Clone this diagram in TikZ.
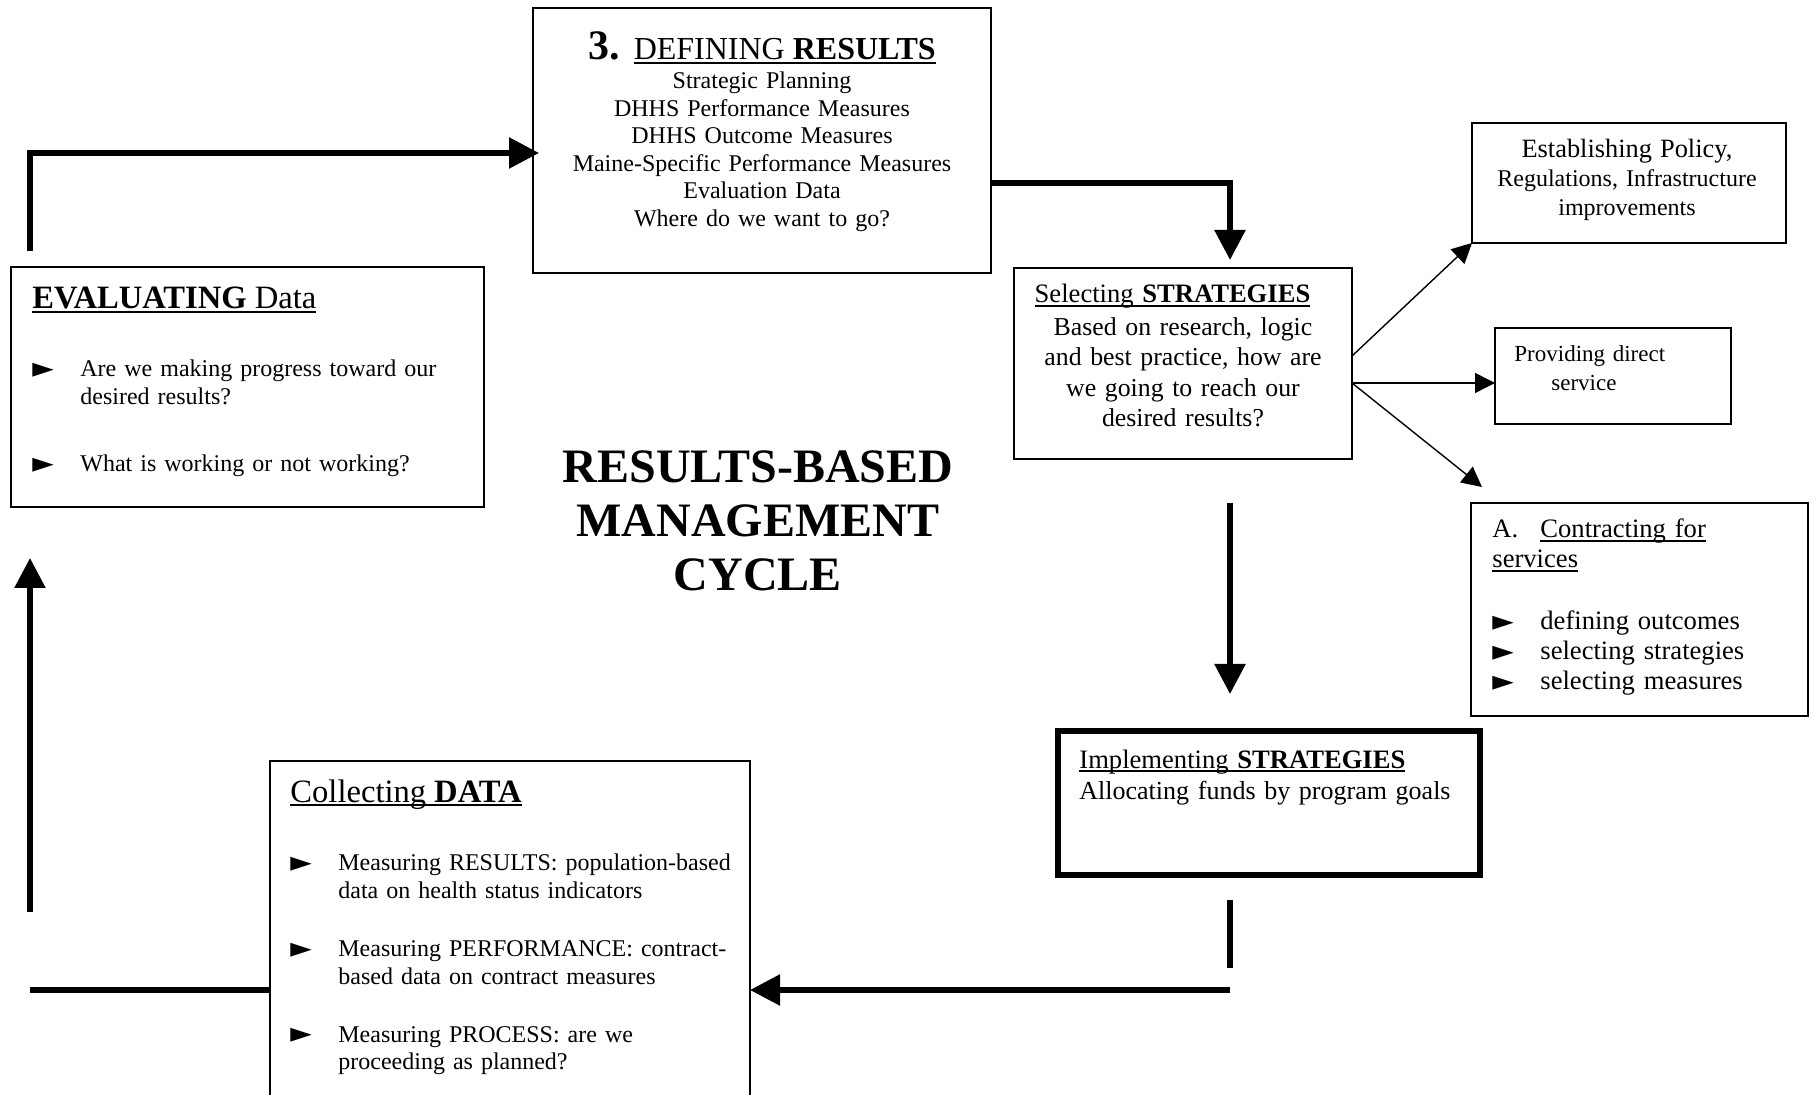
\documentclass[tikz,border=0pt]{standalone}
\usepackage{fontspec}
\setmainfont{Liberation Serif}
\newfontfamily\bulletfont{DejaVu Sans}
\usetikzlibrary{positioning, calc, arrows.meta}

\newcommand{\bul}{\raisebox{-0.3pt}{\bulletfont\fontsize{14}{14}\selectfont ►}}
\newcommand{\bitem}[1]{\par\noindent\hangindent=24pt\hangafter=1\makebox[24pt][l]{\bul}#1\par}
\newcommand{\uln}[1]{\leavevmode\setbox0=\hbox{#1}\rlap{\rule[-1.9pt]{\wd0}{0.9pt}}\box0}

\begin{document}
\begin{tikzpicture}[x=0.5pt, y=-0.5pt,
    box/.style={draw, line width=0.7pt, rectangle, inner sep=0pt, outer sep=0pt, anchor=north west},
    txt/.style={inner sep=0pt, anchor=base west, align=left},
    flow/.style={line width=2.8pt, -{Triangle[length=15pt,width=15pt]}},
    flowline/.style={line width=2.8pt},
    branch/.style={line width=0.7pt, -{Triangle[length=10pt,width=10pt]}}]
    \useasboundingbox (0,0) rectangle (1814,1095);
    \clip (0,0) rectangle (1814,1095);
    %riquadri
    \node[box, minimum width=229pt, minimum height=132.5pt] (defbox) at (533,8) {};
    \node[box, minimum width=236.5pt, minimum height=120pt] (evalbox) at (11,267) {};
    \node[box, minimum width=169pt, minimum height=95.5pt] (selbox) at (1014,268) {};
    \node[box, minimum width=157pt, minimum height=60pt] (estbox) at (1472,123) {};
    \node[box, minimum width=118pt, minimum height=48pt] (provbox) at (1495,328) {};
    \node[box, minimum width=168.5pt, minimum height=106.5pt] (conbox) at (1471,503) {};
    \node[box, line width=3pt, minimum width=211pt, minimum height=72pt] (impbox) at (1058,731) {};
    \node[box, minimum width=240pt, minimum height=229pt] (colbox) at (270,761) {};
    %testi
    \node[txt, anchor=base, align=center, text width=225pt, font=\fontsize{12}{13.75}\selectfont] (deftext) at ($(defbox.north)+(0,52)$) {%
        {\fontsize{21}{21}\selectfont\textbf{3.}}\hspace{7pt}{\fontsize{16}{16}\selectfont\uln{DEFINING \textbf{RESULTS}}}\\[0.75pt]
        Strategic Planning\\ DHHS Performance Measures\\ DHHS Outcome Measures\\ Maine-Specific Performance Measures\\ Evaluation Data\\ Where do we want to go?};
    \node[txt, text width=215pt, font=\fontsize{12}{14}\selectfont] (evaltext) at ($(evalbox.north west)+(21,42)$) {%
        {\fontsize{16.3}{18}\selectfont\uln{\textbf{EVALUATING} Data}\par}
        \vspace{20pt}
        \bitem{Are we making progress toward our\newline desired results?}
        \vspace{19.5pt}
        \bitem{What is working or not working?}};
    \node[txt, anchor=base, align=center, text width=160pt, font=\fontsize{12.9}{15.2}\selectfont] (seltext) at ($(selbox.north)+(0,35)$) {%
        \hbox{\fontsize{13.3}{15.2}\selectfont\uln{Selecting \textbf{STRATEGIES}}\kern10.5pt}\\[1pt]
        Based on research, logic\\ and best practice, how are\\ we going to reach our\\ desired results?};
    \node[txt, anchor=base, align=center, text width=150pt, font=\fontsize{12}{14.5}\selectfont] (esttext) at ($(estbox.north)+(-2,35)$) {%
        {\fontsize{13.2}{14.5}\selectfont Establishing Policy,}\\ Regulations, Infrastructure\\ improvements};
    \node[txt, text width=100pt, font=\fontsize{11.5}{14.5}\selectfont] (provtext) at ($(provbox.north west)+(19,33.5)$) {Providing direct\\\hspace*{18.5pt}service};
    \node[txt, text width=160pt, font=\fontsize{13.3}{15}\selectfont] (context) at ($(conbox.north west)+(21,35)$) {%
        \makebox[24pt][l]{A.}\uln{Contracting for}\\ \uln{services}\par
        \vspace{16pt}
        \bitem{defining outcomes}
        \bitem{selecting strategies}
        \bitem{selecting measures}};
    \node[txt, text width=200pt, font=\fontsize{13}{15.5}\selectfont] (imptext) at ($(impbox.north west)+(21,37)$) {%
        {\fontsize{13.3}{15.5}\selectfont\uln{Implementing \textbf{STRATEGIES}}}\\ Allocating funds by program goals};
    \node[txt, text width=230pt, font=\fontsize{12}{13.9}\selectfont] (coltext) at ($(colbox.north west)+(20,41)$) {%
        {\fontsize{16.3}{18}\selectfont\uln{Collecting \textbf{DATA}}\par}
        \vspace{20.5pt}
        \bitem{Measuring RESULTS: population-based\newline data on health status indicators}
        \vspace{15pt}
        \bitem{Measuring PERFORMANCE: contract-\newline based data on contract measures}
        \vspace{15pt}
        \bitem{Measuring PROCESS: are we\newline proceeding as planned?}};
    %titolo
    \node[txt, anchor=base, align=center, text width=250pt, font=\fontsize{24}{27}\selectfont\bfseries] (title) at (758,483) {RESULTS-BASED\\MANAGEMENT\\CYCLE};
    %punti di aggancio
    \coordinate (evaltop) at ($(evalbox.north west)+(19,-16)$);
    \coordinate (defin) at ($(defbox.west)+(6,12.5)$);
    \coordinate (defout) at ($(defbox.east)+(0,42.5)$);
    \coordinate (drop) at ($(selbox.north)+(47,-8)$);
    \coordinate (selup) at ($(selbox.east)+(0,-7.5)$);
    \coordinate (selmid) at ($(selbox.east)+(0,19.5)$);
    \coordinate (conin) at ($(conbox.north west)+(11,-16)$);
    %frecce del ciclo
    \draw[flow] (evaltop) |- (defin);
    \draw[flow] (defout) -| (drop);
    \draw[flow, shorten <=22pt, shorten >=18.5pt] (drop |- selbox.south) -- (drop |- impbox.north);
    \draw[flowline, shorten <=12.5pt, shorten >=11pt] (drop |- impbox.south) -- (drop |- colbox.east);
    \draw[flow] (drop |- colbox.east) -- (colbox.east);
    \draw[flowline] (colbox.west) -- (colbox.west -| evaltop);
    \draw[flow, shorten <=39pt, shorten >=25.5pt] (colbox.west -| evaltop) -- (evaltop |- evalbox.south);
    %diramazioni
    \draw[branch] (selup) -- (estbox.south west);
    \draw[branch] (selmid) -- (selmid -| provbox.west);
    \draw[branch] (selmid) -- (conin);
\end{tikzpicture}
\end{document}
